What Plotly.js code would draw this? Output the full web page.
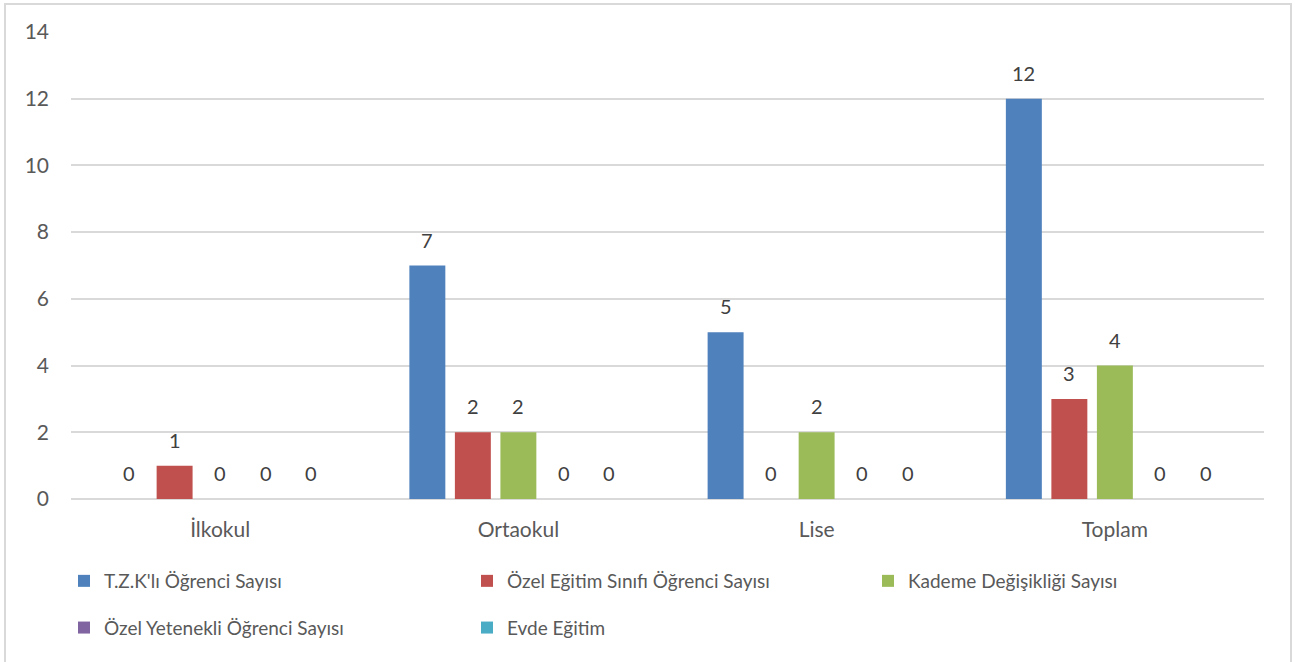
<!DOCTYPE html>
<html>
<head>
<meta charset="utf-8">
<script src="https://cdn.plot.ly/plotly-3.0.1.min.js"></script>
<style>
html,body{margin:0;padding:0;background:#fff;}
#wrap{position:relative;width:1295px;height:662px;overflow:hidden;}
#chart{position:absolute;left:0;top:0;width:1295px;height:662px;}
#border{position:absolute;left:4px;top:3px;width:1288px;height:700px;border:2px solid #d9d9d9;pointer-events:none;box-sizing:border-box;}
</style>
</head>
<body>
<div id="wrap"><div id="chart"></div><div id="border"></div></div>
<script>
const categories = ["İlkokul", "Ortaokul", "Lise", "Toplam"];
const seriesNames = ["T.Z.K'lı Öğrenci Sayısı", "Özel Eğitim Sınıfı Öğrenci Sayısı", "Kademe Değişikliği Sayısı", "Özel Yetenekli Öğrenci Sayısı", "Evde Eğitim"];
const tzk = [0, 7, 5, 12];
const ozelEgitim = [1, 2, 0, 3];
const kademe = [0, 2, 2, 4];
const ozelYetenekli = [0, 0, 0, 0];
const evde = [0, 0, 0, 0];
const colors = ["#4f81bd", "#c0504d", "#9bbb59", "#8064a2", "#4bacc6"];
const yTicks = [0, 2, 4, 6, 8, 10, 12, 14];

const allValues = [tzk, ozelEgitim, kademe, ozelYetenekli, evde];
const FONT = "Lato, 'Open Sans', sans-serif";
const legendIds = ["legend", "legend2", "legend3", "legend", "legend2"];

const traces = allValues.map((vals, i) => ({
  type: "bar",
  name: seriesNames[i],
  x: categories,
  y: vals,
  marker: {color: colors[i]},
  legend: legendIds[i],
  legendgroup: "g" + i,
  hoverinfo: "none"
}));

const slot = 45.5;
const annotations = [];
allValues.forEach((vals, i) => {
  vals.forEach((v, j) => {
    annotations.push({
      xref: "x", yref: "y", x: categories[j], y: v,
      text: String(v), showarrow: false,
      xshift: (i - 2) * slot, yshift: 26,
      font: {family: FONT, size: 20, color: "#404040"}
    });
  });
});

const legendBase = {
  orientation: "v", xref: "container", yref: "container",
  xanchor: "left", yanchor: "top",
  tracegroupgap: 19,
  font: {family: FONT, size: 19, color: "#595959"},
  bgcolor: "rgba(0,0,0,0)", traceorder: "grouped"
};
const legTop = 1 - 562/662;

const layout = {
  width: 1295, height: 662,
  margin: {l: 71, r: 31, t: 32, b: 163, autoexpand: false},
  paper_bgcolor: "#ffffff", plot_bgcolor: "#ffffff",
  barmode: "group",
  bargap: 0.237,
  bargroupgap: 0.21,
  font: {family: FONT, size: 20, color: "#595959"},
  xaxis: {
    type: "category", automargin: false,
    showgrid: false, zeroline: false, showline: false,
    ticks: "", ticklabelstandoff: 16,
    tickfont: {family: FONT, size: 21, color: "#595959"}
  },
  yaxis: {
    range: [0, 14], tickvals: yTicks, ticktext: yTicks.map(String), automargin: false,
    showgrid: true, gridcolor: "#d9d9d9", gridwidth: 2,
    zeroline: true, zerolinecolor: "#d9d9d9", zerolinewidth: 2,
    showline: false, ticks: "", ticklabelstandoff: 21,
    tickfont: {family: FONT, size: 21, color: "#595959"}
  },
  legend: Object.assign({}, legendBase, {x: 64/1295, y: legTop}),
  legend2: Object.assign({}, legendBase, {x: 467/1295, y: legTop}),
  legend3: Object.assign({}, legendBase, {x: 868/1295, y: legTop}),
  annotations: annotations,
  showlegend: true
};

Plotly.newPlot("chart", traces, layout, {displayModeBar: false, staticPlot: true});
</script>
</body>
</html>
